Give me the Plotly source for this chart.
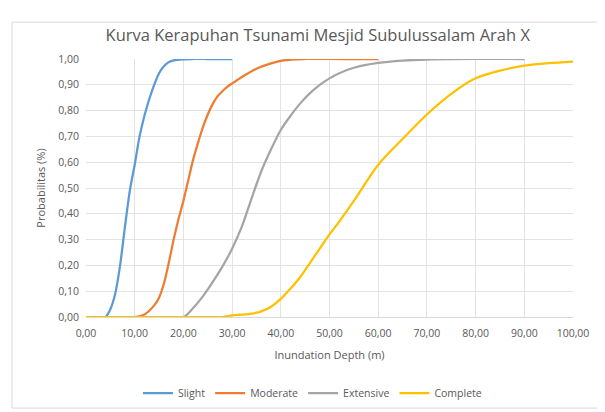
import plotly.graph_objects as go

# ---- data ----
slight_x = [0, 2, 4, 5, 6, 7, 8, 9, 10, 11, 12, 13, 14, 15, 16, 17, 18, 20, 22, 25, 30]
slight_y = [0, 0, 0, 0.03, 0.09, 0.20, 0.35, 0.49, 0.59, 0.70, 0.78, 0.845, 0.90, 0.945, 0.972, 0.988, 0.995, 0.999, 1.0, 1.0, 1.0]

moderate_x = [0, 5, 10, 12, 14, 15, 16, 17, 18, 19, 20, 21, 22, 23, 24, 25, 26, 27, 28, 29, 30, 32, 35, 38, 40, 43, 45, 50, 55, 60]
moderate_y = [0, 0, 0, 0.01, 0.045, 0.075, 0.13, 0.21, 0.30, 0.38, 0.45, 0.53, 0.61, 0.675, 0.735, 0.785, 0.825, 0.855, 0.875, 0.892, 0.905, 0.93, 0.962, 0.983, 0.993, 0.999, 1.0, 1.0, 1.0, 1.0]

extensive_x = [0, 10, 20, 22, 24, 26, 28, 30, 32, 34, 36, 38, 40, 42, 44, 46, 48, 50, 52, 55, 60, 65, 70, 80, 90]
extensive_y = [0, 0, 0, 0.035, 0.08, 0.135, 0.195, 0.265, 0.35, 0.46, 0.565, 0.65, 0.725, 0.78, 0.828, 0.868, 0.90, 0.925, 0.945, 0.966, 0.985, 0.994, 0.998, 1.0, 1.0]

complete_x = [0, 10, 20, 28, 30, 32, 34, 36, 38, 40, 42, 44, 46, 48, 50, 52, 55, 60, 65, 70, 75, 80, 85, 90, 95, 100]
complete_y = [0, 0, 0, 0, 0.006, 0.009, 0.013, 0.022, 0.04, 0.07, 0.11, 0.155, 0.21, 0.265, 0.32, 0.37, 0.45, 0.59, 0.69, 0.785, 0.865, 0.925, 0.955, 0.974, 0.984, 0.99]

series = [
    ("Slight", slight_x, slight_y, "#5B9BD5"),
    ("Moderate", moderate_x, moderate_y, "#ED7D31"),
    ("Extensive", extensive_x, extensive_y, "#A5A5A5"),
    ("Complete", complete_x, complete_y, "#FFC000"),
]

title_text = "Kurva Kerapuhan Tsunami Mesjid Subulussalam Arah X"
x_title = "Inundation Depth (m)"
y_title = "Probabilitas (%)"

fig = go.Figure()
for name, xs, ys, col in series:
    fig.add_trace(go.Scatter(
        x=xs, y=ys, name=name, mode="lines",
        line=dict(color=col, width=2.25, shape="spline", smoothing=0.8),
    ))

FONT = "Open Sans"
GRAY = "#595959"

fig.update_layout(
    width=605, height=412,
    margin=dict(l=78, r=40, t=51, b=101),
    paper_bgcolor="white", plot_bgcolor="white",
    separators=",.",
    font=dict(family=FONT, color=GRAY, size=11),
    title=dict(text=title_text, x=0.512, xanchor="center", y=0.934, yanchor="middle",
               font=dict(family=FONT, size=16.5, color=GRAY)),
    xaxis=dict(range=[0, 100], dtick=10, tick0=0, tickformat=".2f",
               showgrid=True, gridcolor="#E3E3E3", gridwidth=1,
               zeroline=False, showline=True, linecolor="#D9D9D9", linewidth=1,
               ticks="", ticklabelstandoff=6, tickfont=dict(size=10.5, color=GRAY),
               title=dict(text=x_title, font=dict(size=11, color=GRAY), standoff=12)),
    yaxis=dict(range=[0, 1], dtick=0.1, tick0=0, tickformat=".2f",
               showgrid=True, gridcolor="#E3E3E3", gridwidth=1,
               zeroline=False, showline=False,
               ticks="", ticklabelstandoff=6, tickfont=dict(size=10.5, color=GRAY),
               title=dict(text=y_title, font=dict(size=11, color=GRAY), standoff=10)),
    legend=dict(orientation="h", x=0.465, xanchor="center", y=-0.295, yanchor="middle",
                font=dict(size=10.5, color=GRAY), bgcolor="rgba(0,0,0,0)",
                itemwidth=30, tracegroupgap=0),
    showlegend=True,
)

# outer chart frame (as in the reference)
fig.add_shape(type="rect", xref="paper", yref="paper",
              x0=-0.152, x1=1.08, y0=-0.353, y1=1.143,
              line=dict(color="#D9D9D9", width=1), fillcolor="rgba(0,0,0,0)", layer="below")

fig.write_html("out.html")
